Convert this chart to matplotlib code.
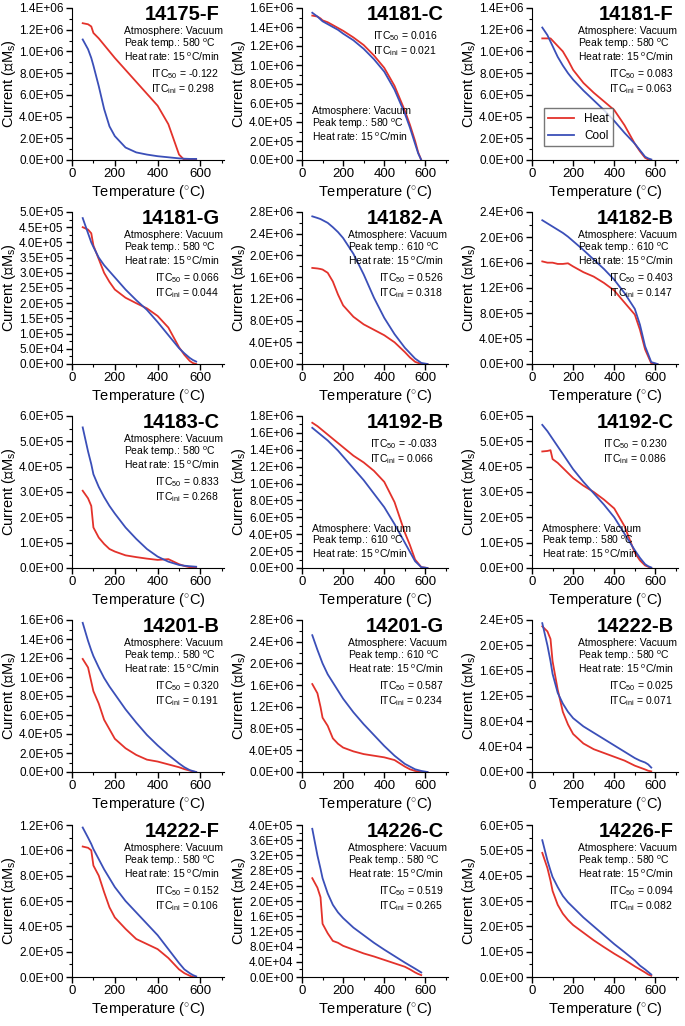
import numpy as np
import matplotlib
matplotlib.use('Agg')
import matplotlib.pyplot as plt
from matplotlib.ticker import MultipleLocator, AutoMinorLocator, FuncFormatter

plt.rcParams['font.family'] = ['Liberation Sans', 'DejaVu Sans']
plt.rcParams['mathtext.fontset'] = 'custom'
plt.rcParams['mathtext.rm'] = 'Liberation Sans'
plt.rcParams['mathtext.it'] = 'Liberation Sans:italic'
plt.rcParams['mathtext.bf'] = 'Liberation Sans:bold'

RED = '#E3322B'
BLUE = '#3B4FB8'

# temperature grids (deg C), heating ends at the peak temperature
T580 = [50, 75, 90, 100, 125, 150, 175, 200, 250, 300, 350, 400, 450, 500, 525, 550, 565, 580]
T610 = [50, 75, 90, 100, 125, 150, 175, 200, 250, 300, 350, 400, 450, 500, 525, 550, 580, 610]

# ---------- curves (values in units of the panel scale) ----------
heat_14175F = [1.26, 1.25, 1.23, 1.17, 1.12, 1.06, 1.0, 0.94, 0.83, 0.72, 0.61, 0.50, 0.33, 0.05, 0.0, 0.0, 0.0, 0.0]
cool_14175F = [1.11, 1.02, 0.94, 0.87, 0.68, 0.47, 0.31, 0.22, 0.115, 0.07, 0.05, 0.035, 0.025, 0.015, 0.012, 0.01, 0.01, 0.01]

heat_14181C = [1.52, 1.51, 1.49, 1.47, 1.45, 1.42, 1.39, 1.36, 1.29, 1.21, 1.10, 0.97, 0.78, 0.52, 0.37, 0.20, 0.08, 0.0]
cool_14181C = [1.55, 1.51, 1.48, 1.46, 1.43, 1.40, 1.37, 1.33, 1.26, 1.17, 1.06, 0.93, 0.74, 0.49, 0.34, 0.17, 0.07, 0.0]

heat_14181F = [1.12, 1.12, 1.12, 1.10, 1.05, 1.0, 0.92, 0.83, 0.71, 0.62, 0.54, 0.46, 0.32, 0.15, 0.08, 0.02, 0.005, 0.0]
cool_14181F = [1.22, 1.15, 1.09, 1.05, 0.95, 0.87, 0.80, 0.74, 0.64, 0.55, 0.46, 0.36, 0.25, 0.15, 0.09, 0.03, 0.015, 0.005]

heat_14181G = [4.5, 4.42, 4.3, 3.9, 3.45, 3.0, 2.7, 2.45, 2.18, 2.0, 1.83, 1.58, 1.2, 0.55, 0.3, 0.1, 0.03, 0.0]
cool_14181G = [4.8, 4.3, 4.0, 3.85, 3.5, 3.25, 3.05, 2.85, 2.45, 2.1, 1.78, 1.38, 0.95, 0.52, 0.35, 0.2, 0.13, 0.08]

heat_14182A = [1.77, 1.76, 1.75, 1.74, 1.68, 1.52, 1.28, 1.08, 0.87, 0.73, 0.63, 0.53, 0.40, 0.22, 0.12, 0.04, 0.0, 0.0]
cool_14182A = [2.72, 2.69, 2.67, 2.65, 2.60, 2.52, 2.43, 2.32, 2.03, 1.65, 1.22, 0.85, 0.55, 0.30, 0.20, 0.10, 0.02, 0.0]

heat_14182B = [1.62, 1.60, 1.60, 1.60, 1.58, 1.58, 1.59, 1.54, 1.45, 1.38, 1.28, 1.16, 0.97, 0.78, 0.54, 0.23, 0.01, 0.0]
cool_14182B = [2.27, 2.22, 2.19, 2.17, 2.12, 2.07, 2.01, 1.94, 1.80, 1.65, 1.50, 1.33, 1.12, 0.87, 0.62, 0.28, 0.03, 0.0]

heat_14183C = [3.05, 2.75, 2.45, 1.6, 1.2, 0.95, 0.75, 0.65, 0.5, 0.43, 0.37, 0.32, 0.35, 0.15, 0.08, 0.03, 0.01, 0.0]
cool_14183C = [5.55, 4.6, 4.1, 3.7, 3.2, 2.8, 2.45, 2.15, 1.6, 1.15, 0.75, 0.45, 0.25, 0.12, 0.09, 0.07, 0.06, 0.05]

heat_14192B = [1.72, 1.68, 1.65, 1.63, 1.58, 1.53, 1.48, 1.43, 1.33, 1.25, 1.15, 1.02, 0.78, 0.42, 0.27, 0.10, 0.01, 0.0]
cool_14192B = [1.66, 1.61, 1.58, 1.56, 1.51, 1.45, 1.39, 1.32, 1.18, 1.04, 0.88, 0.72, 0.52, 0.30, 0.19, 0.08, 0.01, 0.0]

heat_14192C = [4.6, 4.62, 4.65, 4.3, 4.15, 3.95, 3.75, 3.55, 3.25, 3.0, 2.7, 2.35, 1.65, 0.6, 0.3, 0.1, 0.05, 0.0]
cool_14192C = [5.65, 5.4, 5.22, 5.1, 4.8, 4.5, 4.2, 3.9, 3.4, 2.95, 2.5, 2.0, 1.35, 0.7, 0.4, 0.15, 0.07, 0.02]

heat_14201B = [1.19, 1.10, 0.95, 0.85, 0.72, 0.55, 0.45, 0.35, 0.25, 0.18, 0.13, 0.11, 0.08, 0.05, 0.03, 0.015, 0.005, 0.0]
cool_14201B = [1.57, 1.38, 1.28, 1.22, 1.10, 0.99, 0.90, 0.82, 0.66, 0.52, 0.39, 0.28, 0.18, 0.09, 0.05, 0.02, 0.01, 0.0]

heat_14201G = [1.62, 1.45, 1.2, 1.0, 0.85, 0.62, 0.52, 0.45, 0.38, 0.33, 0.30, 0.27, 0.22, 0.10, 0.05, 0.02, 0.0, 0.0]
cool_14201G = [2.52, 2.25, 2.1, 2.0, 1.8, 1.65, 1.5, 1.35, 1.1, 0.88, 0.68, 0.48, 0.3, 0.15, 0.1, 0.05, 0.02, 0.0]

heat_14222B = [23.0, 22.2, 21.0, 17.5, 13.0, 9.5, 7.5, 6.0, 4.5, 3.6, 3.0, 2.4, 1.8, 1.0, 0.7, 0.4, 0.2, 0.1]
cool_14222B = [23.5, 20.0, 17.5, 15.5, 12.5, 10.8, 9.5, 8.5, 7.2, 6.2, 5.2, 4.2, 3.2, 2.2, 1.8, 1.5, 1.2, 0.7]

heat_14222F = [1.03, 1.02, 1.0, 0.88, 0.8, 0.67, 0.55, 0.47, 0.38, 0.30, 0.26, 0.22, 0.15, 0.06, 0.03, 0.01, 0.0, 0.0]
cool_14222F = [1.18, 1.1, 1.05, 1.01, 0.93, 0.85, 0.78, 0.71, 0.6, 0.51, 0.42, 0.33, 0.22, 0.11, 0.06, 0.03, 0.015, 0.005]

heat_14226C = [26, 23.5, 21, 14, 11.5, 9.5, 9.0, 8.2, 7.2, 6.2, 5.4, 4.5, 3.6, 2.7, 2.0, 1.2, 0.8, 0.5]
cool_14226C = [39, 32, 28.5, 26, 22, 19, 17, 15.5, 13, 11, 9, 7.2, 5.5, 3.8, 3.0, 2.2, 1.7, 1.2]

heat_14226F = [4.9, 4.3, 3.8, 3.4, 2.85, 2.5, 2.25, 2.05, 1.75, 1.45, 1.18, 0.92, 0.68, 0.42, 0.3, 0.18, 0.1, 0.05]
cool_14226F = [5.4, 4.6, 4.2, 3.95, 3.55, 3.2, 2.95, 2.75, 2.35, 2.0, 1.65, 1.3, 0.98, 0.65, 0.45, 0.3, 0.2, 0.1]

# ---------- panel metadata ----------
samples = ['14175-F', '14181-C', '14181-F', '14181-G', '14182-A', '14182-B',
           '14183-C', '14192-B', '14192-C', '14201-B', '14201-G', '14222-B',
           '14222-F', '14226-C', '14226-F']
peak_temp = [580, 580, 580, 580, 610, 610, 580, 610, 580, 580, 610, 580, 580, 580, 580]
itc50 = ['-0.122', '0.016', '0.083', '0.066', '0.526', '0.403', '0.833', '-0.033',
         '0.230', '0.320', '0.587', '0.025', '0.152', '0.519', '0.094']
itcini = ['0.298', '0.021', '0.063', '0.044', '0.318', '0.147', '0.268', '0.066',
          '0.086', '0.191', '0.234', '0.071', '0.106', '0.265', '0.082']
heats = [heat_14175F, heat_14181C, heat_14181F, heat_14181G, heat_14182A, heat_14182B,
         heat_14183C, heat_14192B, heat_14192C, heat_14201B, heat_14201G, heat_14222B,
         heat_14222F, heat_14226C, heat_14226F]
cools = [cool_14175F, cool_14181C, cool_14181F, cool_14181G, cool_14182A, cool_14182B,
         cool_14183C, cool_14192B, cool_14192C, cool_14201B, cool_14201G, cool_14222B,
         cool_14222F, cool_14226C, cool_14226F]
scale = [1e6, 1e6, 1e6, 1e5, 1e6, 1e6, 1e5, 1e6, 1e5, 1e6, 1e6, 1e4, 1e6, 1e4, 1e5]
y_max = [1.4e6, 1.6e6, 1.4e6, 5e5, 2.8e6, 2.4e6, 6e5, 1.8e6, 6e5, 1.6e6, 2.8e6, 2.4e5, 1.2e6, 4e5, 6e5]
y_step = [2e5, 2e5, 2e5, 5e4, 4e5, 4e5, 1e5, 2e5, 1e5, 2e5, 4e5, 4e4, 2e5, 4e4, 1e5]

# layout (pixels in a 685x1026 canvas)
W, H = 685, 1026
col_left = [72, 302, 532]
col_width = [152, 146, 146]
row_base = [160, 364, 568, 772, 977]
ax_h = 152
info_bottom = {1: 0.11, 7: 0.05, 8: 0.05}   # panels with the run info in the lower left

fig = plt.figure(figsize=(W / 100, H / 100), dpi=100)
fmt = FuncFormatter(lambda v, p: f"{v:.1E}")

for i, name in enumerate(samples):
    r, c = divmod(i, 3)
    ax = fig.add_axes([col_left[c] / W, 1 - row_base[r] / H, col_width[c] / W, ax_h / H])
    T = T610 if peak_temp[i] == 610 else T580
    ax.plot(T, np.array(heats[i]) * scale[i], color=RED, lw=1.3, label='Heat')
    ax.plot(T, np.array(cools[i]) * scale[i], color=BLUE, lw=1.3, label='Cool')

    ax.set_xlim(0, 710)
    ax.set_ylim(0, y_max[i])
    ax.xaxis.set_major_locator(MultipleLocator(200))
    ax.xaxis.set_minor_locator(MultipleLocator(100))
    ax.yaxis.set_major_locator(MultipleLocator(y_step[i]))
    ax.yaxis.set_minor_locator(AutoMinorLocator(2))
    ax.yaxis.set_major_formatter(fmt)
    for s in ['top', 'right']:
        ax.spines[s].set_visible(False)
    ax.tick_params(which='major', direction='out', length=4, width=1)
    ax.tick_params(which='minor', direction='out', length=2.5, width=0.8)
    ax.tick_params(axis='y', labelsize=8.5, pad=2)
    ax.tick_params(axis='x', labelsize=9.5, pad=2)
    ax.set_xlabel(r'Temperature ($^{\circ}$C)', fontsize=10.5, labelpad=2)
    ax.set_ylabel(r'Current (∝M$_\mathrm{s}$)', fontsize=10.5, labelpad=1)

    ax.text(0.97, 1.02, name, transform=ax.transAxes, ha='right', va='top',
            fontsize=14.5, fontweight='bold')
    info = (f"Atmosphere: Vacuum\nPeak temp.: {peak_temp[i]} $^\\mathrm{{o}}$C\n"
            f"Heat rate: 15 $^\\mathrm{{o}}$C/min")
    itc = f"ITC$_{{50}}$ = {itc50[i]}\nITC$_\\mathrm{{ini}}$ = {itcini[i]}"
    if i in info_bottom:
        ax.text(0.07, info_bottom[i], info, transform=ax.transAxes, ha='left', va='bottom',
                fontsize=7.5, linespacing=1.0)
        ax.text(0.93, 0.86, itc, transform=ax.transAxes, ha='right', va='top',
                fontsize=7.5, multialignment='left', linespacing=1.15)
    else:
        ax.text(0.995, 0.88, info, transform=ax.transAxes, ha='right', va='top',
                fontsize=7.5, multialignment='left', linespacing=1.0)
        ax.text(0.97, 0.61, itc, transform=ax.transAxes, ha='right', va='top',
                fontsize=7.5, multialignment='left', linespacing=1.15)

    if name == '14181-F':
        ax.legend(loc='lower left', bbox_to_anchor=(0.04, 0.05), fontsize=8.5,
                  fancybox=False, edgecolor='#555555', handlelength=2.2,
                  borderpad=0.4, labelspacing=0.4)

fig.savefig('out.png', dpi=100)
